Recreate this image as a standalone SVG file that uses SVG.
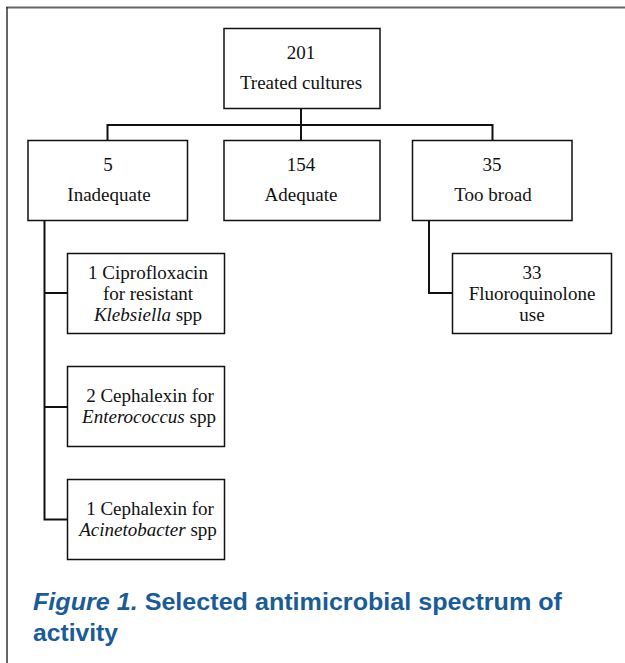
<svg xmlns="http://www.w3.org/2000/svg" width="625" height="663" viewBox="0 0 625 663">
<style>
.box{fill:#fff;stroke:#111;stroke-width:1.5}
.t{font-family:"Liberation Serif","Times New Roman",serif;font-size:19px;fill:#111;text-anchor:middle}
.i{font-style:italic}
.c{fill:none;stroke:#111;stroke-width:2}
.cap{font-family:"Liberation Sans",Arial,sans-serif;font-weight:bold;font-size:24px;fill:#1a5c97}
</style>
<rect width="625" height="663" fill="#fff"/>
<g id="frame">
<line x1="6" y1="7.5" x2="625" y2="7.5" stroke="#666" stroke-width="2"/>
<line x1="7" y1="7" x2="7" y2="663" stroke="#333" stroke-width="1.5"/>
</g>
<g id="connectors">
<path class="c" d="M301 108V125M107.5 141V125H492.5V141M301 125V141"/>
<path class="c" d="M44.5 220V519.5H68M44.5 293H68M44.5 407H68"/>
<path class="c" d="M429 220V293H453"/>
</g>
<g id="n-root">
<rect class="box" x="224" y="28.5" width="156" height="80"/>
<text class="t" x="301" y="59">201</text>
<text class="t" x="301" y="89">Treated cultures</text>
</g>
<g id="n-inadequate">
<rect class="box" x="28" y="140.5" width="159.5" height="80"/>
<text class="t" x="108" y="171">5</text>
<text class="t" x="109" y="201">Inadequate</text>
</g>
<g id="n-adequate">
<rect class="box" x="224" y="140.5" width="156" height="80"/>
<text class="t" x="301" y="171">154</text>
<text class="t" x="301" y="201">Adequate</text>
</g>
<g id="n-broad">
<rect class="box" x="412.5" y="140.5" width="159.5" height="80"/>
<text class="t" x="492" y="171">35</text>
<text class="t" x="493" y="201">Too broad</text>
</g>
<g id="n-cipro">
<rect class="box" x="67.5" y="253.5" width="157" height="80"/>
<text class="t" x="148" y="279">1 Ciprofloxacin</text>
<text class="t" x="148" y="300">for resistant</text>
<text class="t" x="148" y="321"><tspan class="i">Klebsiella</tspan> spp</text>
</g>
<g id="n-fluoro">
<rect class="box" x="452.5" y="253.5" width="159" height="80"/>
<text class="t" x="532" y="279">33</text>
<text class="t" x="532" y="300">Fluoroquinolone</text>
<text class="t" x="532" y="321">use</text>
</g>
<g id="n-ceph2">
<rect class="box" x="67.5" y="366.5" width="157" height="80"/>
<text class="t" x="150" y="402">2 Cephalexin for</text>
<text class="t" x="149" y="423"><tspan class="i">Enterococcus</tspan> spp</text>
</g>
<g id="n-ceph1">
<rect class="box" x="67.5" y="479.5" width="157" height="80"/>
<text class="t" x="150" y="515">1 Cephalexin for</text>
<text class="t" x="148" y="536"><tspan class="i">Acinetobacter</tspan> spp</text>
</g>
<g id="caption">
<text class="cap" x="33" y="610" textLength="529" lengthAdjust="spacingAndGlyphs"><tspan font-style="italic">Figure 1.</tspan> Selected antimicrobial spectrum of</text>
<text class="cap" x="33" y="641" textLength="85" lengthAdjust="spacingAndGlyphs">activity</text>
</g>
</svg>
